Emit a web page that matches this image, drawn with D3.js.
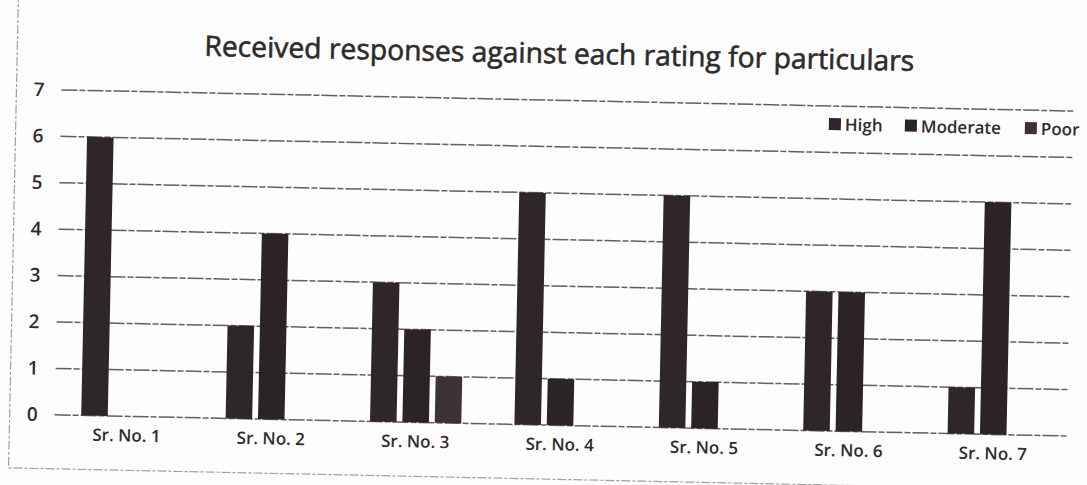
<!DOCTYPE html>
<html>
<head>
<meta charset="utf-8">
<script src="https://cdn.jsdelivr.net/npm/d3@7/dist/d3.min.js"></script>
<style>
  html, body { margin: 0; padding: 0; background: #fdfdfd; }
  svg { display: block; }
  text { font-family: "Open Sans", "Noto Sans", sans-serif; fill: #2f2b2d; }
</style>
</head>
<body>
<svg id="chart" width="1087" height="485"></svg>
<script>
// ---- data ----
const categories = ["Sr. No. 1", "Sr. No. 2", "Sr. No. 3", "Sr. No. 4", "Sr. No. 5", "Sr. No. 6", "Sr. No. 7"];
const seriesNames = ["High", "Moderate", "Poor"];
const highValues = [6, 2, 3, 5, 5, 3, 1];
const moderateValues = [0, 4, 2, 1, 1, 3, 5];
const poorValues = [0, 0, 1, 0, 0, 0, 0];
const yTickValues = [0, 1, 2, 3, 4, 5, 6, 7];
const titleText = "Received responses against each rating for particulars";

const seriesValues = { High: highValues, Moderate: moderateValues, Poor: poorValues };
const colors = { High: "#2f262a", Moderate: "#2c2327", Poor: "#3d3337" };

const svg = d3.select("#chart");
svg.append("rect").attr("width", 1087).attr("height", 485).attr("fill", "#fdfdfd");

// whole scanned page is slightly rotated
const g = svg.append("g").attr("transform", "rotate(1.2, 543, 260)");

// faint chart border (left and bottom edges visible in the scan)
g.append("path")
  .attr("d", "M13,4 V479 H1140")
  .attr("fill", "none").attr("stroke", "#a0a0a0").attr("stroke-width", 1.2)
  .attr("stroke-dasharray", "9,2,3,2");

const x0 = d3.scaleBand().domain(categories).range([58, 1069])
  .paddingInner(0.368).paddingOuter(0.184);
const x1 = d3.scaleBand().domain(seriesNames).range([0, x0.bandwidth()]).paddingInner(0.18);
const y = d3.scaleLinear().domain([0, 7]).range([425, 100]);

// gridlines
g.append("g").selectAll("line").data(yTickValues).join("line")
  .attr("x1", 58).attr("x2", 1072)
  .attr("y1", d => y(d)).attr("y2", d => y(d))
  .attr("stroke", "#606060").attr("stroke-width", 1.5)
  .attr("stroke-dasharray", "16,2,6,2");

// y axis labels
const yAxis = d3.axisLeft(y).tickValues(yTickValues).tickSize(0).tickPadding(0).tickFormat(d3.format("d"));
const yAxisG = g.append("g").attr("transform", "translate(41,0)").call(yAxis);
yAxisG.select(".domain").remove();
yAxisG.selectAll("text").attr("font-size", 19).attr("font-family", "Open Sans")
  .attr("font-weight", 600).attr("fill", "#3a3638");

// x axis labels
const xAxis = d3.axisBottom(x0).tickSize(0).tickPadding(0);
const xAxisG = g.append("g").attr("transform", "translate(0,438)").call(xAxis);
xAxisG.select(".domain").remove();
xAxisG.selectAll("text").attr("font-size", 17).attr("font-family", "Open Sans")
  .attr("font-weight", 600).attr("fill", "#3a3638");

// bars
const groups = g.append("g").selectAll("g").data(categories).join("g")
  .attr("transform", d => `translate(${x0(d)},0)`);
groups.selectAll("rect")
  .data((c, i) => seriesNames.map(s => ({ s, v: seriesValues[s][i] })).filter(d => d.v > 0))
  .join("rect")
  .attr("x", d => x1(d.s))
  .attr("width", x1.bandwidth())
  .attr("y", d => y(d.v))
  .attr("height", d => y(0) - y(d.v))
  .attr("fill", d => colors[d.s]);

// title
g.append("text")
  .attr("x", 555).attr("y", 63)
  .attr("text-anchor", "middle")
  .attr("font-size", 28)
  .attr("textLength", 710).attr("lengthAdjust", "spacingAndGlyphs")
  .attr("fill", "#2e2a2c")
  .attr("stroke", "#2e2a2c").attr("stroke-width", 0.6)
  .text(titleText);

// legend
const legendX = [826, 902, 1022];
const legend = g.append("g").selectAll("g").data(seriesNames).join("g")
  .attr("transform", (d, i) => `translate(${legendX[i]},118)`);
legend.append("rect").attr("x", 0).attr("y", -6).attr("width", 12).attr("height", 12)
  .attr("fill", d => colors[d]);
legend.append("text").attr("x", 16).attr("y", 6.5).attr("font-size", 17)
  .attr("font-weight", 600).attr("fill", "#2e2a2c")
  .text(d => d);
</script>
</body>
</html>
